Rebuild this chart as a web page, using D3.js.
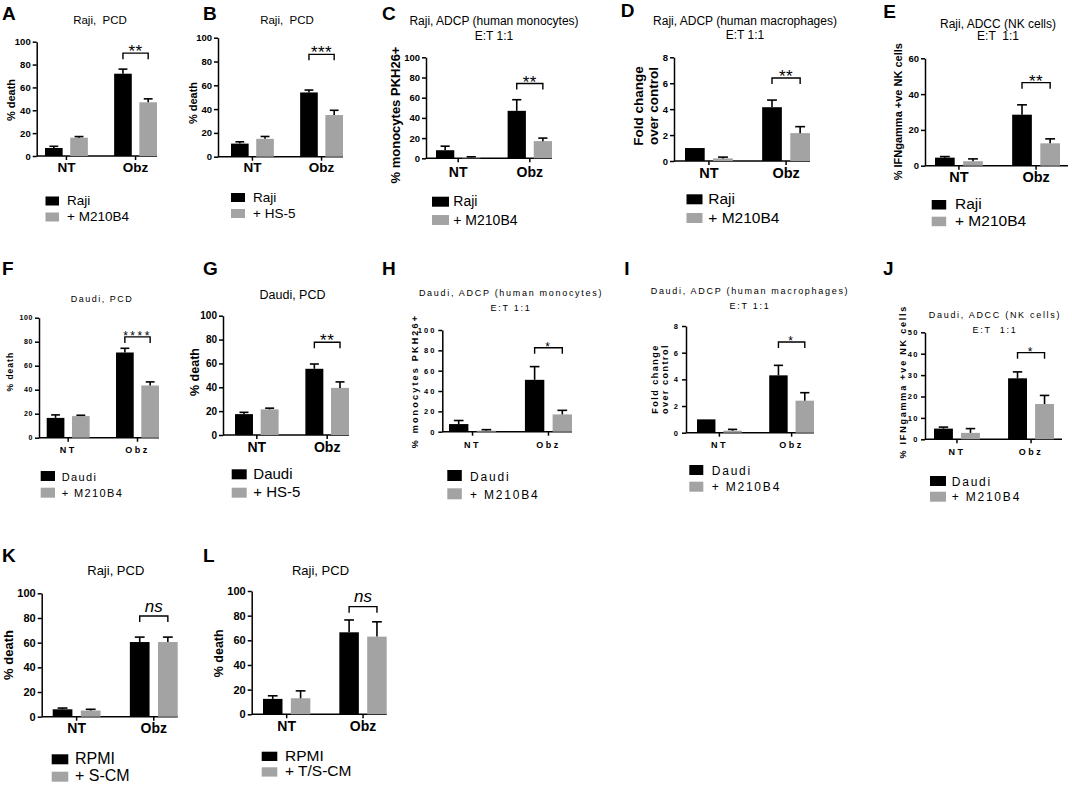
<!DOCTYPE html>
<html>
<head>
<meta charset="utf-8">
<script src="https://cdn.jsdelivr.net/npm/d3@7"></script>
<style>
  body { margin: 0; background: #fff; }
  svg { display: block; font-family: "Liberation Sans", Arial, sans-serif; }
</style>
</head>
<body>
<svg id="fig" width="1072" height="785"></svg>
<script>
// ---- data ----
const groups = ["NT", "Obz"];

const ticksPct = [0, 20, 40, 60, 80, 100];
const ticksFold = [0, 2, 4, 6, 8];
const ticksNkRaji = [0, 20, 40, 60];
const ticksNkDaudi = [0, 10, 20, 30, 40, 50];

// [control series, treated series], each [NT, Obz]
const meansA = [[7, 72], [16, 47]];
const errsA = [[1.5, 4], [1, 3]];
const meansB = [[11, 54], [15, 35]];
const errsB = [[1.5, 2], [2, 4]];
const meansC = [[8, 47], [1, 17]];
const errsC = [[4, 11], [0.5, 3]];
const meansD = [[1, 4.15], [0.2, 2.15]];
const errsD = [[0, 0.55], [0.1, 0.5]];
const meansE = [[4.5, 28.5], [2.5, 12.5]];
const errsE = [[0.6, 5.5], [1.3, 2.5]];
const meansF = [[16.5, 71], [18, 43.5]];
const errsF = [[2.5, 3.5], [0.7, 3]];
const meansG = [[17.5, 55.5], [21.5, 39.5]];
const errsG = [[1.5, 4], [1, 5]];
const meansH = [[7.5, 51], [1, 17]];
const errsH = [[3.5, 13], [1, 4]];
const meansI = [[1, 4.3], [0.15, 2.4]];
const errsI = [[0, 0.75], [0.1, 0.6]];
const meansJ = [[5, 28.5], [3, 16.5]];
const errsJ = [[0.7, 3], [2, 4]];
const meansK = [[6, 60.5], [5, 60.5]];
const errsK = [[1, 4], [1, 4]];
const meansL = [[12.5, 66.5], [13, 63]];
const errsL = [[2.5, 10], [6, 12]];

const legendRajiM = ["Raji", "+ M210B4"];
const legendRajiHS = ["Raji", "+ HS-5"];
const legendDaudiM = ["Daudi", "+ M210B4"];
const legendDaudiHS = ["Daudi", "+ HS-5"];
const legendK = ["RPMI", "+ S-CM"];
const legendL = ["RPMI", "+ T/S-CM"];

const sigLabels = ["**", "***", "**", "**", "**", "****", "**", "*", "*", "*", "ns", "ns"];
const sigLevels = [90, 86, 74, 6.4, 46.4, 84, 77.7, 82.6, 6.8, 40.5, 81.6, 87.3];

const seriesColors = ["#000000", "#a3a3a3"];

// ---- text presets ----
const presets = {
  bold: { tick: 9.5, tickLs: 0, cat: 13.5, catLs: 0, ylab: 11, ylabLs: 0, title: 12, titleLs: 0,
          leg: 13.5, legLs: 0, star: 17, starLs: 0.5 },
  light: { tick: 7, tickLs: 0.6, cat: 9, catLs: 2.5, ylab: 9, ylabLs: 1.8, title: 9, titleLs: 1.7,
           leg: 12, legLs: 1.8, star: 12, starLs: 2 }
};

// ---- panel layout ----
const panels = [
  { id: "A", means: meansA, errs: errsA, ticks: ticksPct, legend: legendRajiM, style: "bold",
    axisX: 36.7, barStart: 45, barEnd: 157, axisEnd: 157, yTop: 41.7, y0: 156,
    letter: [2, 20], title: ["Raji,  PCD"], tx: 100, ty: [24],
    ylab: ["% death"], yx: [15], yy: 100, catY: 172,
    leg: { sx: 45.5, sy: 196.5, sw: 13.5, sh: 9, gap: 16, tx: 67 }, fs: { title: 11.5 } },
  { id: "B", means: meansB, errs: errsB, ticks: ticksPct, legend: legendRajiHS, style: "bold",
    axisX: 218, barStart: 231, barEnd: 343, axisEnd: 343, yTop: 37.7, y0: 156.7,
    letter: [203, 20], title: ["Raji,  PCD"], tx: 287, ty: [24],
    ylab: ["% death"], yx: [197], yy: 103, catY: 172,
    leg: { sx: 231, sy: 193, sw: 14, sh: 9, gap: 16, tx: 253 }, fs: { title: 11.5 } },
  { id: "C", means: meansC, errs: errsC, ticks: ticksPct, legend: legendRajiM, style: "bold",
    axisX: 426, barStart: 436, barEnd: 552, axisEnd: 552, yTop: 57.3, y0: 158.3,
    letter: [382, 20], title: ["Raji, ADCP (human monocytes)", "E:T 1:1"], tx: 494, ty: [25, 40],
    ylab: ["% monocytes PKH26+"], yx: [400], yy: 115, catY: 177,
    leg: { sx: 432, sy: 196.7, sw: 17, sh: 10, gap: 18.3, tx: 453.3 },
    fs: { ylab: 13, cat: 14, leg: 14 } },
  { id: "D", means: meansD, errs: errsD, ticks: ticksFold, legend: legendRajiM, style: "bold",
    axisX: 674, barStart: 685, barEnd: 810, axisEnd: 810, yTop: 57.3, y0: 161,
    letter: [620.7, 17], title: ["Raji, ADCP (human macrophages)", "E:T 1:1"], tx: 745, ty: [25, 39],
    ylab: ["Fold change", "over control"], yx: [643, 658], yy: 106, catY: 178,
    leg: { sx: 686.5, sy: 194.3, sw: 16, sh: 10, gap: 18.7, tx: 708.3 },
    fs: { ylab: 13.5, cat: 14.5, leg: 15.5 } },
  { id: "E", means: meansE, errs: errsE, ticks: ticksNkRaji, legend: legendRajiM, style: "bold",
    axisX: 925, barStart: 935, barEnd: 1060, axisEnd: 1068, yTop: 58.3, y0: 165.7,
    letter: [883.3, 18], title: ["Raji, ADCC (NK cells)", "E:T  1:1"], tx: 998, ty: [28, 40],
    ylab: ["% IFNgamma +ve NK cells"], yx: [901.7], yy: 111.7, catY: 182.3,
    leg: { sx: 931.7, sy: 200, sw: 14.5, sh: 9.5, gap: 16.7, tx: 955 },
    fs: { cat: 14.5, leg: 15.5 } },
  { id: "F", means: meansF, errs: errsF, ticks: ticksPct, legend: legendDaudiM, style: "light",
    axisX: 39, barStart: 46.7, barEnd: 159, axisEnd: 159, yTop: 317.7, y0: 437.7,
    letter: [2, 275], title: ["Daudi, PCD"], tx: 102, ty: [301.7],
    ylab: ["% death"], yx: [13], yy: 371.7, catY: 453.3,
    leg: { sx: 40.7, sy: 471, sw: 14.3, sh: 10, gap: 16.7, tx: 61.7 },
    fs: { ylab: 8.5, ylabLs: 1, leg: 11, legLs: 1.4, title: 9, titleLs: 1.5, starLs: 2.5 } },
  { id: "G", means: meansG, errs: errsG, ticks: ticksPct, legend: legendDaudiHS, style: "bold",
    axisX: 223, barStart: 235, barEnd: 349, axisEnd: 349, yTop: 315.7, y0: 435,
    letter: [203, 275], title: ["Daudi, PCD"], tx: 292.5, ty: [299.3],
    ylab: ["% death"], yx: [199], yy: 372, catY: 451.7,
    leg: { sx: 231.7, sy: 469.3, sw: 15, sh: 10, gap: 18.4, tx: 253.3 },
    fs: { title: 12.5, ylab: 12.5, tick: 10, cat: 14, leg: 15 } },
  { id: "H", means: meansH, errs: errsH, ticks: ticksPct, legend: legendDaudiM, style: "light",
    axisX: 442.3, barStart: 449, barEnd: 572, axisEnd: 572, yTop: 330, y0: 431.7,
    letter: [382, 275], title: ["Daudi, ADCP (human monocytes)", "E:T 1:1"], tx: 511, ty: [295.7, 311],
    ylab: ["% monocytes PKH26+"], yx: [418], yy: 381, catY: 448.3,
    leg: { sx: 447.3, sy: 470, sw: 14.5, sh: 11, gap: 18.3, tx: 470 },
    fs: { ylabLs: 2.2, tick: 7.5, tickLs: 2 } },
  { id: "I", means: meansI, errs: errsI, ticks: ticksFold, legend: legendDaudiM, style: "light",
    axisX: 686, barStart: 697, barEnd: 814, axisEnd: 814, yTop: 326, y0: 432.7,
    letter: [624.3, 275], title: ["Daudi, ADCP (human macrophages)", "E:T 1:1"], tx: 750, ty: [294.3, 309.3],
    ylab: ["Fold change", "over control"], yx: [658, 668.3], yy: 379, catY: 447.7,
    leg: { sx: 689.3, sy: 465, sw: 14, sh: 10, gap: 16.7, tx: 711.7 },
    fs: { ylabLs: 1.5, tick: 7.5, tickLs: 2 } },
  { id: "J", means: meansJ, errs: errsJ, ticks: ticksNkDaudi, legend: legendDaudiM, style: "light",
    axisX: 925, barStart: 934, barEnd: 1054, axisEnd: 1062, yTop: 332.3, y0: 439.3,
    letter: [883, 275], title: ["Daudi, ADCC (NK cells)", "E:T  1:1"], tx: 995, ty: [317.7, 332.7],
    ylab: ["% IFNgamma +ve NK cells"], yx: [906], yy: 381.7, catY: 455,
    leg: { sx: 930, sy: 476, sw: 16, sh: 10, gap: 15.7, tx: 951.7 },
    fs: { tick: 7.5, tickLs: 1.5 } },
  { id: "K", means: meansK, errs: errsK, ticks: ticksPct, legend: legendK, style: "bold",
    axisX: 41.7, barStart: 52.7, barEnd: 177.7, axisEnd: 177.7, yTop: 593.3, y0: 716.7,
    letter: [2, 562], title: ["Raji, PCD"], tx: 115.8, ty: [575],
    ylab: ["% death"], yx: [13.3], yy: 655, catY: 732.7,
    leg: { sx: 51.7, sy: 754.3, sw: 16.6, sh: 10, gap: 17.4, tx: 75 },
    fs: { title: 13, ylab: 13, tick: 11, cat: 14, leg: 16 } },
  { id: "L", means: meansL, errs: errsL, ticks: ticksPct, legend: legendL, style: "bold",
    axisX: 251.7, barStart: 263, barEnd: 386.7, axisEnd: 386.7, yTop: 591, y0: 714.3,
    letter: [203, 562], title: ["Raji, PCD"], tx: 320.5, ty: [575],
    ylab: ["% death"], yx: [223], yy: 653.3, catY: 730.7,
    leg: { sx: 261.7, sy: 751.7, sw: 15.6, sh: 9.3, gap: 15.6, tx: 285 },
    fs: { title: 13, ylab: 12.5, tick: 11, cat: 14, leg: 15.5 } }
];

const svg = d3.select("#fig");

function drawPanel(p, idx) {
  const st = Object.assign({}, presets[p.style], p.fs || {});
  const g = svg.append("g").attr("class", "panel-" + p.id);
  const yMax = d3.max(p.ticks);

  const y = d3.scaleLinear().domain([0, yMax]).range([p.y0, p.yTop]);
  const x = d3.scaleBand().domain(groups).range([p.barStart, p.barEnd]).paddingInner(0.38);
  const xs = d3.scaleBand().domain([0, 1]).range([0, x.bandwidth()]).paddingInner(0.3);
  const bw = xs.bandwidth();

  // panel letter
  g.append("text")
    .attr("x", p.letter[0]).attr("y", p.letter[1])
    .attr("font-size", 19).attr("font-weight", "bold")
    .text(p.id);

  // title lines
  p.title.forEach((t, i) => {
    g.append("text")
      .attr("x", p.tx).attr("y", p.ty[i])
      .attr("text-anchor", "middle")
      .attr("font-size", st.title)
      .attr("letter-spacing", st.titleLs)
      .style("white-space", "pre")
      .text(t);
  });

  // y axis
  const yAxis = d3.axisLeft(y).tickValues(p.ticks).tickSize(4).tickSizeOuter(0).tickPadding(2);
  const ya = g.append("g").attr("transform", `translate(${p.axisX},0)`).call(yAxis);
  ya.select(".domain").attr("stroke", "#000").attr("stroke-width", 1.5);
  ya.selectAll(".tick line").attr("stroke", "#000").attr("stroke-width", 1.5);
  ya.selectAll(".tick text")
    .attr("fill", "#000")
    .attr("font-size", st.tick)
    .attr("font-weight", "bold")
    .attr("letter-spacing", st.tickLs);
  ya.attr("font-family", null).attr("font-size", null);

  // x axis: baseline from the y axis to the end, ticks at group centres
  g.append("line")
    .attr("x1", p.axisX).attr("x2", p.axisEnd)
    .attr("y1", p.y0).attr("y2", p.y0)
    .attr("stroke", "#000").attr("stroke-width", 1.5);
  const xAxis = d3.axisBottom(x).tickSize(4).tickSizeOuter(0);
  const xa = g.append("g").attr("transform", `translate(0,${p.y0})`).call(xAxis);
  xa.attr("font-family", null).attr("font-size", null);
  xa.select(".domain").remove();
  xa.selectAll(".tick line").attr("stroke", "#000").attr("stroke-width", 1.5);
  xa.selectAll(".tick text")
    .attr("fill", "#000")
    .attr("dy", null)
    .attr("y", p.catY - p.y0)
    .attr("font-size", st.cat)
    .attr("font-weight", "bold")
    .attr("letter-spacing", st.catLs);

  // y label
  p.ylab.forEach((t, i) => {
    g.append("text")
      .attr("transform", `translate(${p.yx[i]},${p.yy}) rotate(-90)`)
      .attr("text-anchor", "middle")
      .attr("font-size", st.ylab)
      .attr("font-weight", "bold")
      .attr("letter-spacing", st.ylabLs)
      .text(t);
  });

  // bars + error bars
  p.means.forEach((series, s) => {
    const sg = g.append("g");
    sg.selectAll("rect")
      .data(groups)
      .join("rect")
      .attr("x", (d) => x(d) + xs(s))
      .attr("width", bw)
      .attr("y", (d, i) => y(series[i]))
      .attr("height", (d, i) => p.y0 - y(series[i]))
      .attr("fill", seriesColors[s]);

    const top = (d) => y(series[groups.indexOf(d)] + p.errs[s][groups.indexOf(d)]);
    const eg = sg.selectAll("g.err")
      .data(groups.filter((d, i) => p.errs[s][i] > 0))
      .join("g").attr("class", "err")
      .attr("stroke", "#000").attr("stroke-width", 1.6);
    eg.append("line")
      .attr("x1", (d) => x(d) + xs(s) + bw / 2)
      .attr("x2", (d) => x(d) + xs(s) + bw / 2)
      .attr("y1", (d) => y(series[groups.indexOf(d)]))
      .attr("y2", top);
    eg.append("line")
      .attr("x1", (d) => x(d) + xs(s) + bw * 0.25)
      .attr("x2", (d) => x(d) + xs(s) + bw * 0.75)
      .attr("y1", top)
      .attr("y2", top);
  });

  // significance bracket over Obz
  const bx0 = x("Obz") + xs(0) + bw / 2;
  const bx1 = x("Obz") + xs(1) + bw / 2;
  const by = y(sigLevels[idx]);
  g.append("path")
    .attr("d", d3.line()([[bx0, by + 6], [bx0, by], [bx1, by], [bx1, by + 6]]))
    .attr("fill", "none").attr("stroke", "#000").attr("stroke-width", 1.4);
  const isNs = sigLabels[idx] === "ns";
  g.append("text")
    .attr("x", (bx0 + bx1) / 2)
    .attr("y", isNs ? by - 4.5 : by + (p.style === "bold" ? 4 : 3))
    .attr("text-anchor", "middle")
    .attr("font-size", isNs ? 17 : st.star)
    .attr("font-style", isNs ? "italic" : null)
    .attr("letter-spacing", isNs ? 0 : st.starLs)
    .text(sigLabels[idx]);

  // legend
  const lg = g.append("g");
  p.legend.forEach((t, i) => {
    lg.append("rect")
      .attr("x", p.leg.sx).attr("y", p.leg.sy + i * p.leg.gap)
      .attr("width", p.leg.sw).attr("height", p.leg.sh)
      .attr("fill", seriesColors[i]);
    lg.append("text")
      .attr("x", p.leg.tx).attr("y", p.leg.sy + p.leg.sh - 0.5 + i * p.leg.gap)
      .attr("font-size", st.leg)
      .attr("letter-spacing", st.legLs)
      .text(t);
  });
}

panels.forEach(drawPanel);
</script>
</body>
</html>
